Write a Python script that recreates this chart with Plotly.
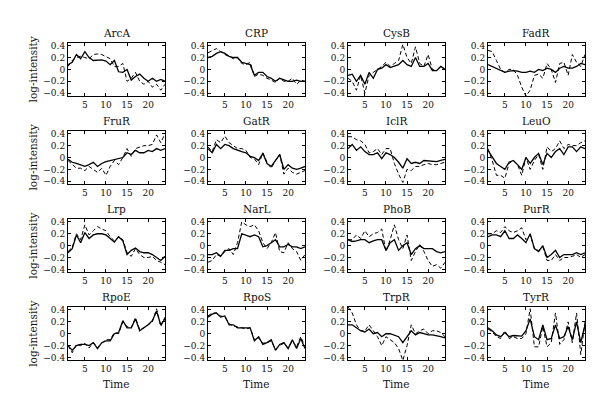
import plotly.graph_objects as go

time = list(range(1, 25))
names = ["ArcA", "CRP", "CysB", "FadR", "FruR", "GatR", "IclR", "LeuO",
         "Lrp", "NarL", "PhoB", "PurR", "RpoE", "RpoS", "TrpR", "TyrR"]

arca_s = [0.08, 0.12, 0.25, 0.18, 0.30, 0.20, 0.15, 0.15, 0.16, 0.14, 0.08, 0.15, -0.04, -0.05, 0.00, -0.18, -0.12, -0.08, -0.15, -0.20, -0.15, -0.20, -0.17, -0.20]
arca_d = [0.05, 0.15, 0.20, 0.22, 0.20, 0.18, 0.25, 0.26, 0.25, 0.22, 0.18, 0.05, 0.05, 0.10, -0.20, -0.15, -0.05, -0.20, -0.25, -0.20, -0.30, -0.25, -0.35, -0.25]
crp_s = [0.20, 0.22, 0.27, 0.30, 0.27, 0.22, 0.20, 0.20, 0.12, 0.10, 0.08, -0.10, -0.05, -0.05, -0.12, -0.15, -0.20, -0.15, -0.18, -0.20, -0.20, -0.18, -0.20, -0.20]
crp_d = [0.28, 0.32, 0.35, 0.30, 0.25, 0.22, 0.18, 0.20, 0.10, 0.08, 0.12, -0.12, -0.08, -0.10, -0.15, -0.18, -0.22, -0.15, -0.20, -0.20, -0.15, -0.25, -0.18, -0.20]
cysb_s = [-0.10, -0.08, -0.20, -0.10, -0.25, -0.05, -0.15, 0.00, 0.02, 0.08, 0.03, 0.05, 0.08, 0.15, 0.08, 0.05, 0.20, 0.05, 0.05, 0.10, -0.02, -0.02, 0.05, 0.00]
cysb_d = [-0.15, -0.20, -0.35, -0.10, -0.40, -0.10, -0.05, 0.00, 0.05, 0.12, 0.05, 0.10, 0.15, 0.42, 0.20, 0.10, 0.38, 0.10, 0.05, 0.25, 0.00, -0.02, 0.05, 0.00]
fadr_s = [0.08, 0.05, 0.02, -0.02, -0.05, -0.03, -0.02, -0.03, -0.05, -0.05, -0.03, -0.05, 0.00, -0.02, 0.02, 0.00, -0.05, 0.02, 0.05, 0.02, 0.02, 0.05, 0.10, 0.08]
fadr_d = [0.32, 0.30, 0.15, 0.00, -0.05, 0.00, 0.00, -0.10, -0.30, -0.45, -0.35, -0.10, -0.08, -0.15, 0.10, 0.00, -0.22, 0.10, 0.12, -0.10, 0.25, 0.12, 0.05, 0.25]
frur_s = [-0.03, -0.08, -0.10, -0.12, -0.15, -0.12, -0.08, -0.15, -0.10, -0.07, -0.05, -0.03, -0.01, 0.00, 0.08, 0.05, 0.12, 0.08, 0.08, 0.12, 0.10, 0.15, 0.12, 0.15]
frur_d = [-0.05, -0.12, -0.18, -0.18, -0.22, -0.15, -0.20, -0.25, -0.18, -0.30, -0.15, -0.05, -0.12, 0.00, 0.15, 0.02, 0.15, 0.18, 0.20, 0.20, 0.22, 0.38, 0.25, 0.40]
gatr_s = [0.15, 0.08, 0.22, 0.15, 0.22, 0.20, 0.15, 0.12, 0.10, 0.08, 0.02, 0.00, -0.05, 0.07, -0.10, -0.15, -0.05, 0.05, -0.20, -0.12, -0.18, -0.20, -0.18, -0.15]
gatr_d = [0.18, 0.10, 0.30, 0.25, 0.36, 0.25, 0.20, 0.15, 0.15, 0.12, 0.00, -0.02, -0.12, 0.08, -0.08, -0.18, -0.05, 0.05, -0.28, -0.18, -0.25, -0.28, -0.25, -0.22]
iclr_s = [0.15, 0.22, 0.12, 0.18, 0.10, 0.05, 0.05, 0.08, -0.02, 0.08, 0.05, 0.00, -0.08, -0.18, -0.02, -0.10, -0.08, -0.10, -0.05, -0.06, -0.07, -0.07, -0.05, -0.03]
iclr_d = [0.35, 0.35, 0.30, 0.28, 0.22, 0.08, 0.10, 0.15, 0.05, 0.15, 0.15, -0.10, -0.28, -0.42, -0.20, -0.22, -0.15, -0.15, -0.12, -0.10, -0.12, -0.12, -0.10, -0.08]
leuo_s = [0.12, 0.00, -0.10, -0.15, -0.20, -0.08, -0.05, -0.12, -0.20, 0.00, -0.10, 0.00, 0.07, -0.12, 0.07, 0.00, 0.10, 0.15, 0.05, 0.18, 0.18, 0.10, 0.18, 0.15]
leuo_d = [0.15, -0.05, -0.30, -0.30, -0.35, -0.10, -0.05, -0.12, -0.30, 0.00, -0.20, -0.05, 0.05, -0.20, 0.18, 0.10, 0.15, 0.28, 0.15, 0.22, 0.20, 0.20, 0.25, 0.28]
lrp_s = [-0.12, -0.05, 0.18, 0.05, 0.22, 0.12, 0.18, 0.20, 0.20, 0.18, 0.12, 0.06, 0.15, 0.08, -0.15, -0.08, -0.04, -0.10, -0.12, -0.12, -0.15, -0.20, -0.25, -0.18]
lrp_d = [-0.10, -0.03, 0.20, 0.10, 0.35, 0.18, 0.25, 0.32, 0.28, 0.25, 0.15, 0.08, 0.15, 0.10, -0.12, -0.18, -0.05, -0.15, -0.20, -0.20, -0.18, -0.25, -0.28, -0.32]
narl_s = [-0.15, -0.15, -0.12, -0.18, -0.08, -0.08, -0.05, -0.05, 0.20, 0.18, 0.15, 0.18, 0.15, -0.02, 0.00, 0.05, 0.10, -0.02, -0.02, 0.02, -0.02, -0.02, -0.05, -0.02]
narl_d = [-0.28, -0.25, -0.15, -0.18, -0.10, -0.05, -0.15, 0.05, 0.40, 0.35, 0.32, 0.35, 0.25, 0.05, -0.05, 0.05, 0.22, -0.10, -0.12, 0.05, -0.05, -0.10, -0.25, -0.15]
phob_s = [0.10, 0.07, 0.08, 0.10, 0.10, 0.05, 0.08, 0.10, 0.10, -0.08, 0.05, 0.10, -0.08, 0.00, 0.05, -0.15, -0.05, 0.00, -0.05, -0.05, -0.05, -0.10, -0.12, -0.10]
phob_d = [0.10, 0.10, 0.18, 0.12, 0.25, 0.15, 0.20, 0.22, 0.28, -0.10, 0.10, 0.35, 0.10, -0.05, 0.18, -0.25, -0.10, 0.02, -0.10, -0.25, -0.35, -0.32, -0.38, -0.28]
purr_s = [0.15, 0.18, 0.18, 0.15, 0.25, 0.12, 0.12, 0.18, 0.12, 0.05, 0.20, -0.05, -0.10, 0.00, -0.20, -0.15, -0.08, -0.20, -0.15, -0.15, -0.15, -0.12, -0.15, -0.12]
purr_d = [0.20, 0.20, 0.25, 0.22, 0.32, 0.25, 0.22, 0.25, 0.30, 0.10, 0.18, -0.05, -0.08, -0.02, -0.25, -0.25, -0.15, -0.25, -0.20, -0.20, -0.18, -0.15, -0.20, -0.15]
rpoe_s = [-0.20, -0.28, -0.20, -0.18, -0.18, -0.20, -0.15, -0.25, -0.15, -0.12, -0.12, 0.00, 0.02, 0.22, 0.10, 0.10, 0.25, 0.05, 0.10, 0.15, 0.22, 0.38, 0.15, 0.25]
rpoe_d = [-0.20, -0.32, -0.18, -0.20, -0.16, -0.24, -0.15, -0.23, -0.16, -0.10, -0.10, 0.02, 0.00, 0.20, 0.12, 0.10, 0.27, 0.07, 0.10, 0.15, 0.20, 0.42, 0.12, 0.28]
rpos_s = [0.28, 0.33, 0.35, 0.28, 0.30, 0.15, 0.15, 0.10, 0.10, 0.10, 0.10, -0.12, -0.05, -0.18, -0.15, -0.10, -0.28, -0.18, -0.15, -0.25, -0.10, -0.25, -0.08, -0.25]
rpos_d = [0.30, 0.35, 0.35, 0.30, 0.28, 0.17, 0.13, 0.12, 0.10, 0.08, 0.10, -0.10, -0.07, -0.16, -0.15, -0.12, -0.26, -0.20, -0.16, -0.24, -0.12, -0.22, -0.05, -0.22]
trpr_s = [0.15, 0.15, 0.10, 0.05, 0.03, 0.08, 0.00, 0.02, -0.05, 0.00, 0.00, -0.03, -0.05, -0.15, -0.05, 0.05, -0.02, 0.02, 0.00, -0.02, -0.02, -0.03, -0.05, -0.07]
trpr_d = [0.45, 0.35, 0.15, 0.05, 0.05, 0.15, 0.05, -0.05, -0.20, -0.05, -0.10, -0.15, -0.25, -0.45, -0.20, 0.15, 0.00, 0.05, 0.08, 0.00, 0.05, 0.05, 0.02, -0.05]
tyrr_s = [0.10, 0.05, -0.02, -0.05, 0.02, -0.05, -0.03, -0.03, -0.04, 0.05, 0.25, -0.05, -0.10, 0.15, -0.10, -0.08, 0.15, -0.08, -0.05, 0.12, -0.10, 0.20, -0.15, 0.15]
tyrr_d = [0.08, 0.03, -0.05, -0.08, 0.05, -0.08, -0.05, -0.08, -0.08, 0.00, 0.42, -0.22, -0.22, 0.12, -0.22, -0.15, 0.35, -0.18, -0.10, 0.20, -0.15, 0.35, -0.35, 0.20]

solid = [arca_s, crp_s, cysb_s, fadr_s, frur_s, gatr_s, iclr_s, leuo_s,
         lrp_s, narl_s, phob_s, purr_s, rpoe_s, rpos_s, trpr_s, tyrr_s]
dashed = [arca_d, crp_d, cysb_d, fadr_d, frur_d, gatr_d, iclr_d, leuo_d,
          lrp_d, narl_d, phob_d, purr_d, rpoe_d, rpos_d, trpr_d, tyrr_d]

ytick_vals = [-0.4, -0.2, 0, 0.2, 0.4]
ytick_text = ["\u22120.4", "\u22120.2", "0", "0.2", "0.4"]
xtick_vals = [5, 10, 15, 20]

W, H = 600, 402
col_left = [60, 200, 340, 480]
row_top = [33, 122, 211, 300]
pw, ph = 97, 54
FONT = "DejaVu Serif"

fig = go.Figure()
annotations = []
for i, name in enumerate(names):
    r, c = divmod(i, 4)
    k = "" if i == 0 else str(i + 1)
    xa, ya = "x" + k, "y" + k
    x0 = col_left[c] / W
    x1 = (col_left[c] + pw) / W
    y1 = 1 - row_top[r] / H
    y0 = 1 - (row_top[r] + ph) / H
    fig.add_trace(go.Scatter(x=time, y=dashed[i], mode="lines", xaxis=xa, yaxis=ya,
                             line=dict(color="black", width=1, dash="4px,2.5px"), showlegend=False))
    fig.add_trace(go.Scatter(x=time, y=solid[i], mode="lines", xaxis=xa, yaxis=ya,
                             line=dict(color="black", width=1.3), showlegend=False))
    axcommon = dict(showline=True, linecolor="black", linewidth=1, mirror="ticks",
                    ticks="inside", ticklen=3, tickcolor="black", showgrid=False,
                    zeroline=False, tickfont=dict(family=FONT, size=9, color="#111"))
    fig.layout["xaxis" + k] = dict(domain=[x0, x1], range=[1, 24], anchor=ya,
                                   tickvals=xtick_vals, **axcommon)
    fig.layout["yaxis" + k] = dict(domain=[y0, y1], range=[-0.45, 0.45], anchor=xa,
                                   tickvals=ytick_vals, ticktext=ytick_text, **axcommon)
    annotations.append(dict(text=name, x=(x0 + x1) / 2, y=y1, xref="paper", yref="paper",
                            xanchor="center", yanchor="bottom", yshift=2, showarrow=False,
                            font=dict(family=FONT, size=10.5, color="#111")))
    if c == 0:
        annotations.append(dict(text="log-intensity", x=25 / W, y=(y0 + y1) / 2,
                                xref="paper", yref="paper", textangle=-90,
                                xanchor="center", yanchor="middle", showarrow=False,
                                font=dict(family=FONT, size=10.5, color="#111")))
    if r == 3:
        annotations.append(dict(text="Time", x=(x0 + x1) / 2, y=1 - 378 / H,
                                xref="paper", yref="paper", xanchor="center",
                                yanchor="middle", showarrow=False,
                                font=dict(family=FONT, size=10.5, color="#111")))

fig.update_layout(width=W, height=H, margin=dict(l=0, r=0, t=0, b=0),
                  paper_bgcolor="white", plot_bgcolor="white",
                  font=dict(family=FONT, color="black"),
                  annotations=annotations, showlegend=False)
fig.write_html("out.html")
